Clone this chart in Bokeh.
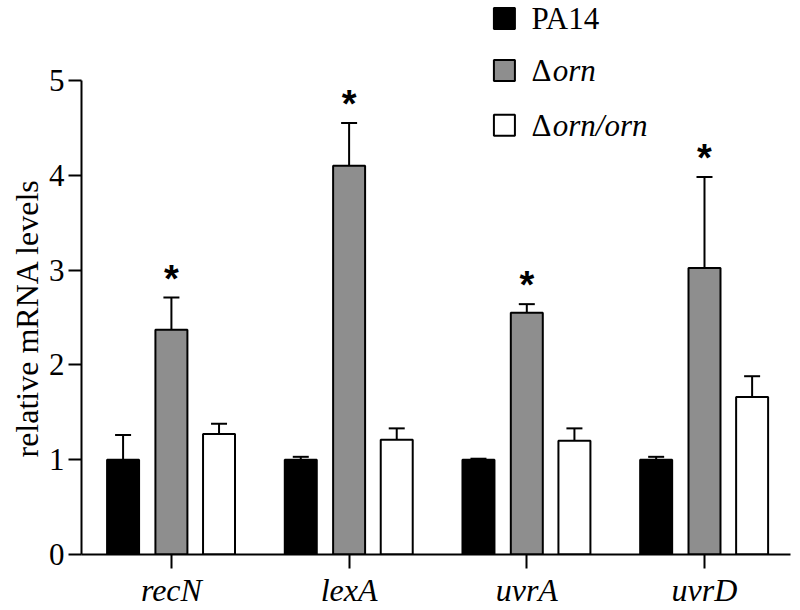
from bokeh.plotting import figure
from bokeh.models import ColumnDataSource, Whisker, TeeHead, FixedTicker, Range1d, Title
from bokeh.core.properties import value
from bokeh.embed import file_html
from bokeh.resources import INLINE

# ---- data ----
genes = ["recN", "lexA", "uvrA", "uvrD"]
strains = ["PA14", "Δorn", "Δorn/orn"]
pa14 = [1.00, 1.00, 1.00, 1.00]
pa14_err = [0.26, 0.03, 0.01, 0.03]
orn = [2.37, 4.10, 2.55, 3.02]
orn_err = [0.34, 0.45, 0.09, 0.96]
comp = [1.27, 1.21, 1.20, 1.66]
comp_err = [0.11, 0.12, 0.13, 0.22]
significant = [True, True, True, True]
y_ticks = [0, 1, 2, 3, 4, 5]
y_label = "relative mRNA levels"

SERIF = "Liberation Serif"
colors = ["black", "#8e8e8e", "white"]
offsets = [-0.272, 0.0, 0.268]
bar_w = 0.18

p = figure(width=800, height=610, output_backend="svg", toolbar_location=None,
           x_range=Range1d(-0.506, 3.484), y_range=Range1d(0, 5.842),
           min_border_left=81, min_border_right=10, min_border_top=0, min_border_bottom=55)
p.outline_line_color = None
p.grid.visible = False
p.background_fill_color = "white"

series = [(pa14, pa14_err), (orn, orn_err), (comp, comp_err)]
for (vals, errs), col, off in zip(series, colors, offsets):
    xs = [i + off for i in range(len(genes))]
    src = ColumnDataSource(dict(x=xs, top=vals, upper=[v + e for v, e in zip(vals, errs)]))
    p.vbar(x="x", top="top", bottom=0, width=bar_w, source=src,
           fill_color=col, line_color="black", line_width=2)
    w = Whisker(base="x", lower="top", upper="upper", source=src, dimension="height",
                line_color="black", line_width=2,
                upper_head=TeeHead(size=16, line_color="black", line_width=2), lower_head=None)
    p.add_layout(w)

# significance stars
sx = [i for i, s in enumerate(significant) if s]
sy = [orn[i] + orn_err[i] for i in sx]
p.text(x=sx, y=sy, text=["*"] * len(sx), text_align="center", text_baseline="alphabetic",
       y_offset=-19, text_font=value("Liberation Sans"), text_font_style="bold",
       text_font_size="38px", text_color="black")

# axes
p.yaxis.ticker = FixedTicker(ticks=y_ticks)
p.yaxis.bounds = (y_ticks[0], y_ticks[-1])
p.yaxis.major_label_text_font = SERIF
p.yaxis.major_label_text_font_size = "31px"
p.yaxis.major_label_standoff = 4
p.yaxis.major_tick_out = 13
p.yaxis.major_tick_in = 0
p.yaxis.minor_tick_line_color = None

# y-axis title, as a left-side title shifted up from the bottom of the frame
p.add_layout(Title(text=y_label, align="left", offset=97, standoff=2,
                   text_font=SERIF, text_font_style="normal", text_font_size="32px",
                   text_color="black"), "left")

p.xaxis.ticker = FixedTicker(ticks=list(range(len(genes))))
p.xaxis.major_label_overrides = {i: g for i, g in enumerate(genes)}
p.xaxis.major_label_text_font = SERIF
p.xaxis.major_label_text_font_style = "italic"
p.xaxis.major_label_text_font_size = "32px"
p.xaxis.major_label_standoff = 3
p.xaxis.major_tick_out = 14
p.xaxis.major_tick_in = 0
p.xaxis.minor_tick_line_color = None

for ax in (p.xaxis, p.yaxis):
    ax.axis_line_width = 2
    ax.major_tick_line_width = 2
    ax.axis_line_color = "black"
    ax.major_tick_line_color = "black"
    ax.major_label_text_color = "black"

# legend (manual, to allow italic parts)
leg_x = 1.874
leg_y = [5.653, 5.105, 4.526]
p.scatter(x=[leg_x] * 3, y=leg_y, marker="square", size=21,
          fill_color=colors, line_color="black", line_width=2)
tx = 2.026
p.text(x=[tx], y=[leg_y[0]], text=[strains[0]], text_baseline="middle",
       text_font=value(SERIF), text_font_size="31px", text_color="black")
p.text(x=[tx, tx], y=leg_y[1:], text=["Δ", "Δ"], text_baseline="middle",
       text_font=value(SERIF), text_font_size="31px", text_color="black")
p.text(x=[tx + 0.12, tx + 0.12], y=leg_y[1:],
       text=[strains[1][1:], strains[2][1:]], text_baseline="middle",
       text_font=value(SERIF), text_font_style="italic", text_font_size="31px",
       text_color="black")

open("out.html", "w").write(file_html(p, INLINE))
